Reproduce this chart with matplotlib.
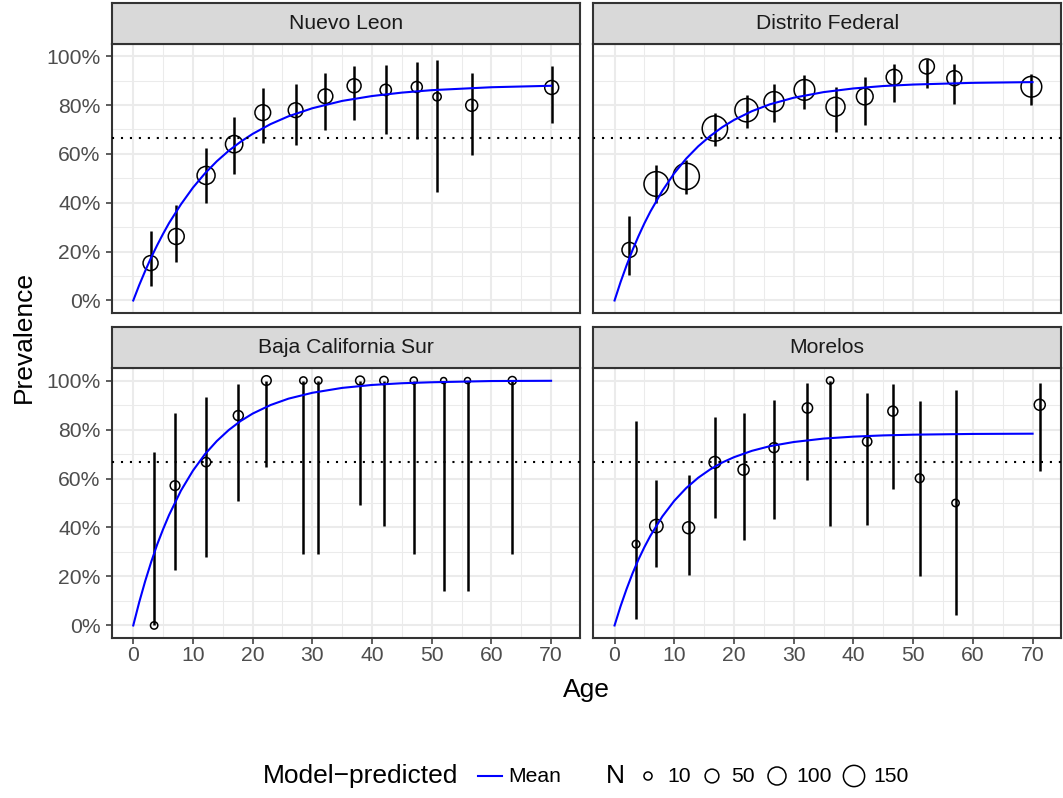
import matplotlib

matplotlib.use("Agg")
import matplotlib.pyplot as plt
from matplotlib.ticker import MultipleLocator, PercentFormatter


OUTPUT_FILE = "out.png"
FIG_W, FIG_H = 1063, 798

PANEL_NAMES = ["Nuevo Leon", "Distrito Federal", "Baja California Sur", "Morelos"]

# Observed prevalence by age group (percent), with 95% interval and sample size.
NL_AGE = [2.9, 7.2, 12.2, 16.9, 21.7, 27.2, 32.2, 37.0, 42.3, 47.5, 50.9, 56.7, 70.1]
NL_PREV = [15.3, 26.2, 51.2, 64.0, 76.9, 77.9, 83.6, 87.9, 86.2, 87.4, 83.4, 79.9, 87.2]
NL_LOW = [6.1, 15.7, 39.8, 51.8, 64.3, 63.8, 69.8, 73.9, 68.2, 66.2, 44.6, 59.5, 72.6]
NL_HIGH = [28.5, 39.0, 62.6, 75.0, 86.8, 88.7, 93.0, 96.0, 96.5, 97.7, 98.5, 93.2, 95.8]
NL_N = [63, 74, 100, 91, 71, 60, 60, 52, 29, 27, 11, 34, 52]

DF_AGE = [2.5, 7.0, 12.0, 16.8, 22.1, 26.7, 31.8, 37.0, 41.9, 46.8, 52.3, 56.9, 69.8]
DF_PREV = [20.7, 47.7, 50.8, 70.4, 77.9, 81.4, 86.2, 79.3, 83.5, 91.4, 95.8, 91.0, 87.5]
DF_LOW = [10.5, 40.1, 43.5, 63.3, 70.7, 72.9, 78.3, 68.9, 72.0, 81.1, 86.8, 80.5, 80.1]
DF_HIGH = [34.4, 55.5, 57.6, 76.9, 84.2, 88.5, 92.4, 87.2, 91.4, 97.0, 99.0, 97.0, 92.8]
DF_N = [63, 214, 247, 226, 186, 130, 141, 114, 83, 71, 63, 63, 141]

BCS_AGE = [3.5, 7.0, 12.2, 17.6, 22.3, 28.5, 31.0, 38.0, 42.0, 47.0, 52.0, 56.0, 63.5]
BCS_PREV = [0.0, 57.1, 66.7, 85.7, 100, 100, 100, 100, 100, 100, 100, 100, 100]
BCS_LOW = [0.0, 22.8, 27.9, 50.7, 64.7, 29.0, 29.0, 49.0, 40.5, 29.0, 13.9, 13.9, 29.0]
BCS_HIGH = [70.9, 86.8, 93.3, 98.4, 100, 100, 100, 100, 100, 100, 100, 100, 100]
BCS_N = [7, 18, 16, 20, 18, 7, 7, 14, 11, 6, 3, 3, 10]

MOR_AGE = [3.6, 7.0, 12.4, 16.8, 21.6, 26.7, 32.3, 36.1, 42.3, 46.6, 51.1, 57.1, 71.2]
MOR_PREV = [33.2, 40.6, 39.9, 66.6, 63.6, 72.6, 88.8, 100, 75.1, 87.5, 60.1, 50.0, 90.1]
MOR_LOW = [2.7, 23.8, 20.7, 43.7, 34.7, 43.6, 59.5, 40.5, 40.9, 55.6, 20.0, 4.1, 62.9]
MOR_HIGH = [83.6, 59.4, 61.6, 85.1, 86.8, 92.2, 98.8, 100, 95.1, 98.6, 91.8, 96.0, 98.8]
MOR_N = [8, 46, 34, 32, 27, 20, 22, 7, 16, 20, 13, 7, 27]

# Model-predicted mean prevalence (percent).
CURVE_AGE = [0, 1, 2, 3, 4, 5, 6, 8, 10, 12, 14, 16, 18, 20, 23, 26, 30, 35, 40, 45, 50, 60, 70]
NL_CURVE = [0, 6.3, 12.1, 17.6, 22.6, 27.3, 31.7, 39.4, 46.2, 52.0, 57.0, 61.3, 65.0,
            68.2, 72.2, 75.4, 78.7, 81.7, 83.7, 85.1, 86.1, 87.3, 87.9]
DF_CURVE = [0, 7.5, 14.3, 20.6, 26.3, 31.6, 36.4, 44.9, 52.1, 58.1, 63.1, 67.3, 70.9,
            73.9, 77.5, 80.3, 83.0, 85.3, 86.8, 87.8, 88.4, 89.1, 89.4]
BCS_CURVE = [0, 9.5, 18.1, 25.9, 33.0, 39.3, 45.1, 55.1, 63.2, 69.9, 75.3, 79.8, 83.5,
             86.5, 90.0, 92.6, 95.0, 97.0, 98.2, 98.9, 99.3, 99.8, 99.9]
MOR_CURVE = [0, 7.8, 14.8, 21.2, 26.9, 32.0, 36.6, 44.5, 50.9, 56.1, 60.3, 63.7, 66.5,
             68.7, 71.3, 73.2, 74.9, 76.3, 77.1, 77.6, 77.9, 78.2, 78.3]

THRESHOLD = 66.7
LEGEND_N = [10, 50, 100, 150]

PANEL_DATA = [
    (NL_AGE, NL_PREV, NL_LOW, NL_HIGH, NL_N, NL_CURVE),
    (DF_AGE, DF_PREV, DF_LOW, DF_HIGH, DF_N, DF_CURVE),
    (BCS_AGE, BCS_PREV, BCS_LOW, BCS_HIGH, BCS_N, BCS_CURVE),
    (MOR_AGE, MOR_PREV, MOR_LOW, MOR_HIGH, MOR_N, MOR_CURVE),
]

TICK_GREY = "#4D4D4D"
FRAME_GREY = "#333333"
GRID_GREY = "#EBEBEB"
STRIP_FILL = "#D9D9D9"
SMALL_TEXT = 15.2
BIG_TEXT = 19


def px_box(left, top, right, bottom):
    """Turn a pixel box (top-left origin) into figure fractions."""
    return [left / FIG_W, 1 - bottom / FIG_H, (right - left) / FIG_W, (bottom - top) / FIG_H]


def marker_area(n):
    """Scatter area (pt^2) for a sample size, close to ggplot's area scale."""
    diameter_px = 3.5 + 1.45 * n ** 0.5
    return (diameter_px * 0.72) ** 2


def style_panel(axis, show_x, show_y):
    axis.set_xlim(-3.56, 74.76)
    axis.set_ylim(-5, 105)
    axis.xaxis.set_major_locator(MultipleLocator(10))
    axis.xaxis.set_minor_locator(MultipleLocator(5))
    axis.yaxis.set_major_locator(MultipleLocator(20))
    axis.yaxis.set_minor_locator(MultipleLocator(10))
    axis.yaxis.set_major_formatter(PercentFormatter(xmax=100, decimals=0))
    axis.grid(which="major", color=GRID_GREY, linewidth=1.5)
    axis.grid(which="minor", color=GRID_GREY, linewidth=0.75)
    axis.set_axisbelow(True)
    for spine in axis.spines.values():
        spine.set_color(FRAME_GREY)
        spine.set_linewidth(1.5)
    axis.tick_params(which="minor", length=0)
    axis.tick_params(axis="x", which="major", length=4.3, width=1.1, color=FRAME_GREY,
                     labelsize=SMALL_TEXT, labelcolor=TICK_GREY, pad=2,
                     bottom=show_x, labelbottom=show_x)
    axis.tick_params(axis="y", which="major", length=4.3, width=1.1, color=FRAME_GREY,
                     labelsize=SMALL_TEXT, labelcolor=TICK_GREY, pad=4,
                     left=show_y, labelleft=show_y)


def add_strip(fig, box, title):
    strip = fig.add_axes(box)
    strip.set_facecolor(STRIP_FILL)
    strip.set_xticks([])
    strip.set_yticks([])
    for spine in strip.spines.values():
        spine.set_color(FRAME_GREY)
        spine.set_linewidth(1.5)
    strip.text(0.5, 0.5, title, ha="center", va="center", fontsize=SMALL_TEXT,
               color="#1A1A1A", transform=strip.transAxes)


def draw_panel(axis, data):
    age, prev, low, high, n, curve = data
    axis.scatter(age, prev, s=[marker_area(v) for v in n], facecolors="none",
                 edgecolors="black", linewidths=1.1, zorder=3)
    axis.vlines(age, low, high, color="black", linewidth=1.8, zorder=4)
    axis.plot(CURVE_AGE, curve, color="blue", linewidth=1.5, zorder=5)
    axis.axhline(THRESHOLD, color="black", linewidth=1.5, linestyle=(0, (1, 3.3)), zorder=6)


def draw_legend(fig):
    leg = fig.add_axes([0, 0, 1, 1])
    leg.set_xlim(0, FIG_W)
    leg.set_ylim(FIG_H, 0)
    leg.axis("off")
    y = 776
    leg.text(263, y, "Model\u2212predicted", fontsize=BIG_TEXT, ha="left", va="center")
    leg.plot([478, 502], [y, y], color="blue", linewidth=1.5)
    leg.text(508, y, "Mean", fontsize=SMALL_TEXT, ha="left", va="center")
    leg.text(606, y, "N", fontsize=BIG_TEXT, ha="left", va="center")
    key_x = [648, 712, 777, 854]
    for x, n in zip(key_x, LEGEND_N):
        leg.scatter([x], [y], s=marker_area(n), facecolors="none", edgecolors="black",
                    linewidths=1.1)
        leg.text(x + 19, y, str(n), fontsize=SMALL_TEXT, ha="left", va="center")


def main():
    plt.rcParams["font.family"] = ["Liberation Sans", "DejaVu Sans"]
    fig = plt.figure(figsize=(FIG_W / 100, FIG_H / 100), dpi=100)

    columns = [(112, 579.5), (593.3, 1061)]
    rows = [(3, 44, 312.7), (326.7, 368.3, 637.7)]

    for index, (name, data) in enumerate(zip(PANEL_NAMES, PANEL_DATA)):
        row, col = divmod(index, 2)
        left, right = columns[col]
        strip_top, panel_top, panel_bottom = rows[row]
        axis = fig.add_axes(px_box(left, panel_top, right, panel_bottom))
        style_panel(axis, show_x=row == 1, show_y=col == 0)
        draw_panel(axis, data)
        add_strip(fig, px_box(left, strip_top, right, panel_top), name)

    fig.text(24 / FIG_W, 1 - 337 / FIG_H, "Prevalence", rotation=90, fontsize=BIG_TEXT,
             ha="center", va="center")
    fig.text(586.5 / FIG_W, 1 - 697 / FIG_H, "Age", fontsize=BIG_TEXT, ha="center",
             va="baseline")
    draw_legend(fig)

    fig.savefig(OUTPUT_FILE, dpi=100)
    plt.close(fig)


if __name__ == "__main__":
    main()
